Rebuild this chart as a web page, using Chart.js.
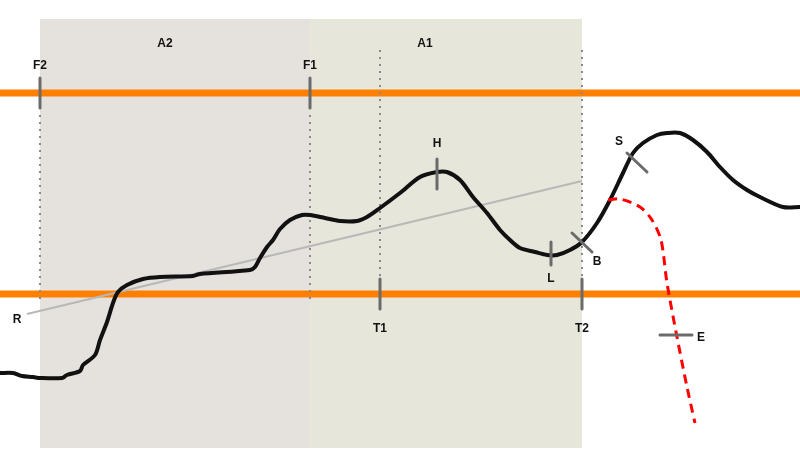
<!DOCTYPE html>
<html>
<head>
<meta charset="utf-8">
<script src="https://cdn.jsdelivr.net/npm/chart.js@4/dist/chart.umd.min.js"></script>
<style>
html, body { margin: 0; padding: 0; background: #fff; }
#wrap { width: 800px; height: 471px; position: relative; }
</style>
</head>
<body>
<div id="wrap"><canvas id="myChart"></canvas></div>
<script>
// 主曲线 (x, y) - y 轴向下
const curveX = [0, 13, 22, 33, 40, 62, 67, 80, 83, 95, 100, 107, 113, 118, 127, 143, 160, 193, 200, 250, 255, 260, 267, 273, 280, 290, 302, 310, 325, 340, 357, 367, 380, 400, 420, 437, 447, 460, 473, 487, 500, 510, 520, 535, 547, 557, 570, 582, 597, 610, 623, 633, 643, 657, 667, 680, 693, 707, 720, 733, 747, 760, 783, 800];
const curveY = [373, 373, 376, 377, 378, 378, 375, 371, 365, 355, 340, 322, 303, 292, 285, 279, 277, 276, 274, 270, 267, 258, 247, 240, 229, 220, 215, 215, 218, 221, 221, 217, 208, 193, 177, 172, 172, 180, 197, 213, 230, 240, 248, 252, 255, 255, 250, 242, 223, 200, 173, 153, 143, 135, 133, 133, 140, 152, 167, 180, 190, 197, 207, 207];

// 红色虚线 (预测)
const forecastX = [608, 620, 640, 652, 661, 667, 677, 687, 695];
const forecastY = [200, 199, 207, 220, 240, 283, 337, 387, 423];

// 橙色水平线
const levelY = [93, 294];

// 灰色趋势线 R
const trendX = [27, 582];
const trendY = [314, 181];

// 区域 A2 / A1
const zoneNames = ['A2', 'A1'];
const zoneFrom = [40, 310];
const zoneTo = [310, 582];
const zoneTop = 19;
const zoneBottom = 448;
const zoneColors = ['#e5e2dd', '#e6e6da'];

// 虚线竖线
const guideX = [40, 310, 380, 582];
const guideTop = [115, 115, 50, 50];
const guideBottom = [304, 304, 277, 277];

// 标记 (线段)
const markNames = ['F2', 'F1', 'T1', 'T2', 'H', 'L', 'B', 'S', 'E'];
const markX1 = [40, 310, 380, 582, 437, 551, 572, 627, 660];
const markY1 = [78, 78, 279, 279, 159, 242, 233, 153, 335];
const markX2 = [40, 310, 380, 582, 437, 551, 592, 647, 692];
const markY2 = [108, 108, 309, 309, 189, 265, 252, 172, 335];

// 文字标签
const textNames = ['A2', 'A1', 'F2', 'F1', 'H', 'S', 'L', 'B', 'T1', 'T2', 'R', 'E'];
const textX = [165, 425, 40, 310, 437, 619, 551, 597, 380, 582, 17, 701];
const textY = [42, 42, 64, 64, 142, 140, 277, 260, 327, 327, 318, 336];

const pts = (xs, ys) => xs.map((x, i) => ({ x: x, y: ys[i] }));

const datasets = [];

// 橙色线
levelY.forEach(y => {
  datasets.push({
    data: [{ x: 0, y: y }, { x: 800, y: y }],
    borderColor: '#ff8000',
    borderWidth: 7,
    pointRadius: 0,
    order: 9
  });
});

// 虚线竖线
guideX.forEach((x, i) => {
  datasets.push({
    data: [{ x: x, y: guideTop[i] }, { x: x, y: guideBottom[i] }],
    borderColor: '#8a8a8a',
    borderWidth: 2,
    borderDash: [2, 5],
    pointRadius: 0,
    order: 8
  });
});

// 趋势线
datasets.push({
  data: pts(trendX, trendY),
  borderColor: '#b8b8b8',
  borderWidth: 2,
  pointRadius: 0,
  order: 7
});

// 主曲线
datasets.push({
  data: pts(curveX, curveY),
  borderColor: '#111111',
  borderWidth: 4,
  tension: 0.3,
  pointRadius: 0,
  order: 5
});

// 预测虚线
datasets.push({
  data: pts(forecastX, forecastY),
  borderColor: '#ff0000',
  borderWidth: 3,
  borderDash: [9, 6],
  tension: 0.3,
  pointRadius: 0,
  order: 4
});

// 标记
markNames.forEach((n, i) => {
  datasets.push({
    label: n,
    data: [{ x: markX1[i], y: markY1[i] }, { x: markX2[i], y: markY2[i] }],
    borderColor: '#6b6b6b',
    borderWidth: 3,
    borderCapStyle: 'round',
    pointRadius: 0,
    order: 2
  });
});

// 背景区域
const zonePlugin = {
  id: 'zones',
  beforeDatasetsDraw(chart) {
    const { ctx, scales: { x, y } } = chart;
    ctx.save();
    zoneNames.forEach((n, i) => {
      const x1 = x.getPixelForValue(zoneFrom[i]);
      const x2 = x.getPixelForValue(zoneTo[i]);
      const y1 = y.getPixelForValue(zoneTop);
      const y2 = y.getPixelForValue(zoneBottom);
      ctx.fillStyle = zoneColors[i];
      ctx.fillRect(x1, y1, x2 - x1, y2 - y1);
    });
    ctx.restore();
  }
};

// 文字
const textPlugin = {
  id: 'texts',
  afterDatasetsDraw(chart) {
    const { ctx, scales: { x, y } } = chart;
    ctx.save();
    ctx.fillStyle = '#111';
    ctx.font = 'bold 12px "Liberation Sans", Arial, sans-serif';
    ctx.textAlign = 'center';
    ctx.textBaseline = 'middle';
    textNames.forEach((t, i) => {
      ctx.fillText(t, x.getPixelForValue(textX[i]), y.getPixelForValue(textY[i]) + 2);
    });
    ctx.restore();
  }
};

new Chart(document.getElementById('myChart'), {
  type: 'line',
  data: { datasets: datasets },
  options: {
    responsive: true,
    maintainAspectRatio: false,
    animation: false,
    layout: { padding: 0 },
    plugins: {
      legend: { display: false },
      tooltip: { enabled: false }
    },
    scales: {
      x: { type: 'linear', min: 0, max: 800, display: false },
      y: { type: 'linear', min: 0, max: 471, reverse: true, display: false }
    }
  },
  plugins: [zonePlugin, textPlugin]
});
</script>
</body>
</html>
